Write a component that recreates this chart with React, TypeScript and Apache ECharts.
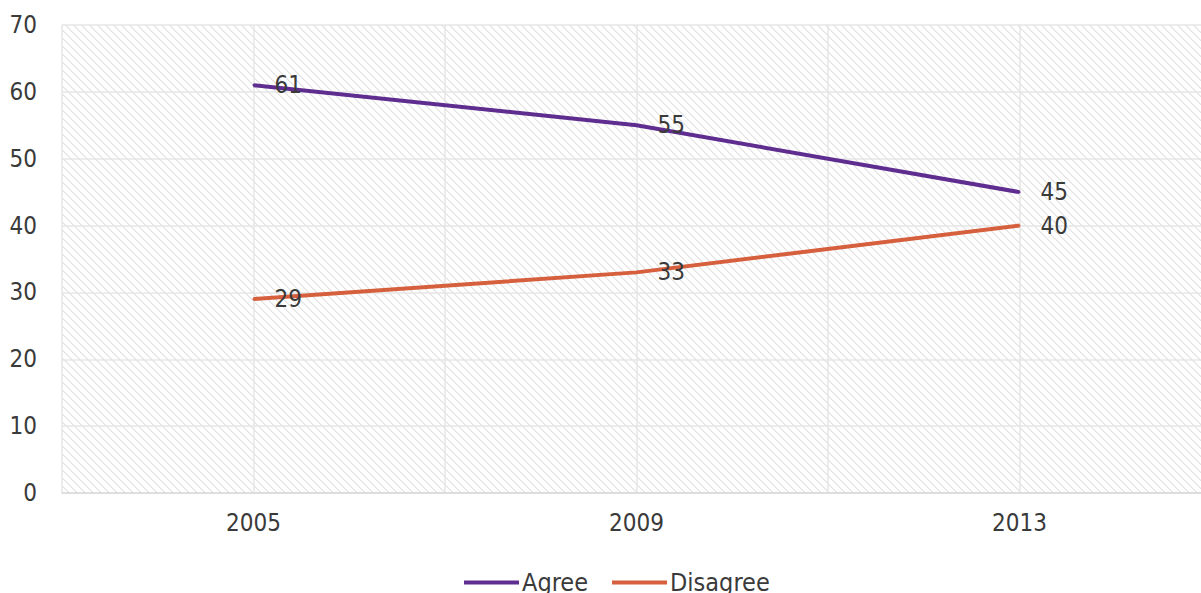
import React, { useEffect, useRef } from "react";
import * as echarts from "echarts";

const categories = ["", "2005", "", "2009", "", "2013", ""];
const agreeValues = [null, 61, null, 55, null, 45, null];
const disagreeValues = [null, 29, null, 33, null, 40, null];
const yTicks = { min: 0, max: 70, interval: 10 };

const FONT = "'DejaVu Sans Condensed', 'DejaVu Sans', sans-serif";
const TEXT = "#3a3a3a";
const FS = 24;

function makeHatch(): HTMLCanvasElement {
  const c = document.createElement("canvas");
  c.width = 8;
  c.height = 8;
  const ctx = c.getContext("2d")!;
  ctx.fillStyle = "#ffffff";
  ctx.fillRect(0, 0, 8, 8);
  for (let i = 0; i < 8; i++) {
    ctx.fillStyle = "#e2e2e2";
    ctx.fillRect(i, i, 1, 1);
    ctx.fillStyle = "#eeeeee";
    ctx.fillRect((i + 1) % 8, i, 1, 1);
  }
  return c;
}

export default function App() {
  const ref = useRef<HTMLDivElement>(null);
  useEffect(() => {
    if (!ref.current) return;
    const chart = echarts.init(ref.current, undefined, { renderer: "svg" });
    const label = {
      show: true,
      position: "right" as const,
      distance: 20,
      color: TEXT,
      fontSize: FS,
      fontFamily: FONT,
    };
    chart.setOption({
      animation: false,
      backgroundColor: "#ffffff",
      grid: {
        left: 62,
        right: -10,
        top: 25,
        bottom: 100,
        show: true,
        borderWidth: 0,
        outerBoundsMode: "none",
        containLabel: false,
        backgroundColor: { image: makeHatch(), repeat: "repeat" } as any,
      },
      legend: {
        bottom: -7,
        left: 459,
        itemWidth: 55,
        itemHeight: 4,
        itemGap: 24,
        icon: "rect",
        textStyle: { color: TEXT, fontSize: 25, fontFamily: FONT, padding: [0, 0, 0, -2] },
        data: ["Agree", "Disagree"],
      },
      xAxis: {
        type: "category",
        data: categories,
        boundaryGap: false,
        axisLine: { show: true, lineStyle: { color: "#d9d9d9", width: 1.5 } },
        axisTick: { show: false },
        axisLabel: { color: TEXT, fontSize: FS, fontFamily: FONT, margin: 18, interval: 0 },
        splitLine: { show: true, lineStyle: { color: "#e6e6e6", width: 1.5 } },
      },
      yAxis: {
        type: "value",
        min: yTicks.min,
        max: yTicks.max,
        interval: yTicks.interval,
        axisLine: { show: false },
        axisTick: { show: false },
        axisLabel: { color: TEXT, fontSize: FS, fontFamily: FONT, margin: 25 },
        splitLine: { show: true, lineStyle: { color: "#e6e6e6", width: 1.5 } },
      },
      series: [
        {
          name: "Agree",
          type: "line",
          data: agreeValues,
          connectNulls: true,
          symbol: "circle",
          symbolSize: 2,
          showSymbol: true,
          lineStyle: { color: "#5e2d8f", width: 4 },
          itemStyle: { color: "#5e2d8f" },
          label,
        },
        {
          name: "Disagree",
          type: "line",
          data: disagreeValues,
          connectNulls: true,
          symbol: "circle",
          symbolSize: 2,
          showSymbol: true,
          lineStyle: { color: "#d65f3d", width: 4 },
          itemStyle: { color: "#d65f3d" },
          label,
        },
      ],
    });
    return () => chart.dispose();
  }, []);
  return (
    <div
      ref={ref}
      style={{ position: "fixed", left: 0, top: 0, width: 1201, height: 593 }}
    />
  );
}
